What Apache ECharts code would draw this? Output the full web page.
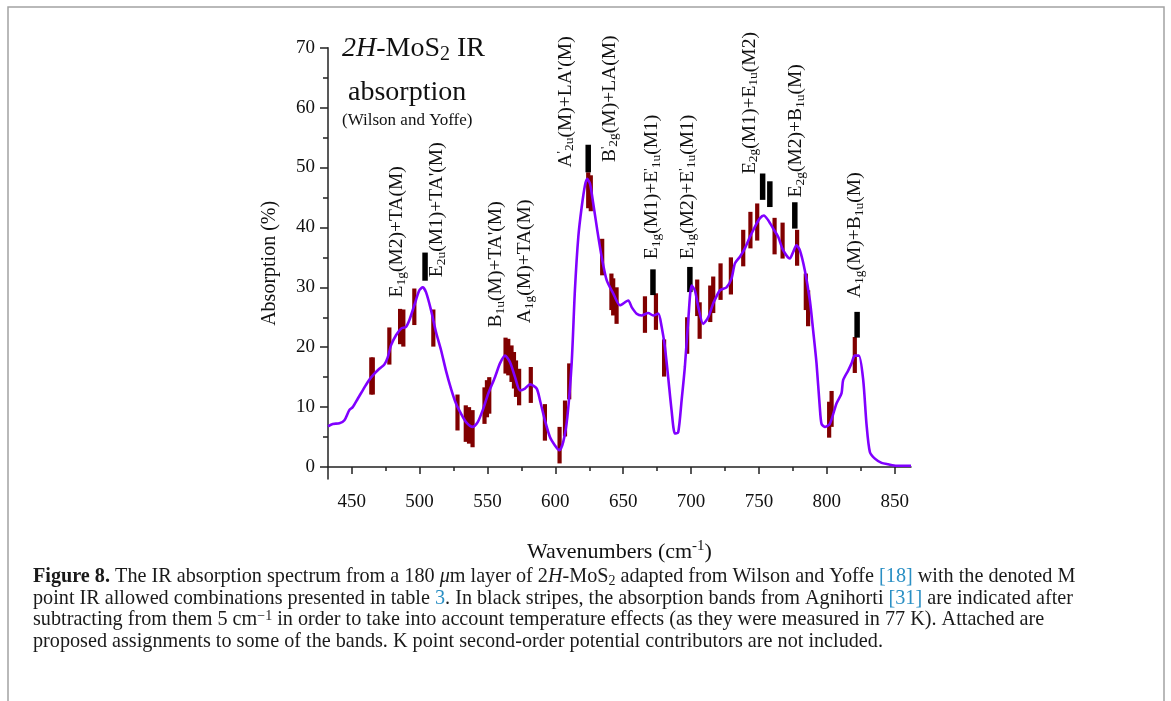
<!DOCTYPE html>
<html>
<head>
<meta charset="utf-8">
<script src="https://cdn.jsdelivr.net/npm/echarts@6/dist/echarts.min.js"></script>
<style>
  html, body { margin: 0; padding: 0; background: #fff; }
  #chart { width: 1171px; height: 701px; }
</style>
</head>
<body>
<div id="chart"></div>
<script>
const SERIF = "'Liberation Serif', 'Times New Roman', serif";

// Wilson & Yoffe trace: [wavenumber (cm-1), absorption (%)]
const spectrum = [
  [432.5, 6.8], [436, 7.2], [440.9, 7.3], [444.6, 7.8], [448.2, 9.5], [450.7, 10.0],
  [454.4, 11.4], [458.1, 12.8], [461.8, 14.2], [465.5, 15.3], [470.3, 16.4], [474, 17.1],
  [476.5, 18.3], [478.9, 20.3], [482.6, 22.0], [486.3, 23.1], [490, 23.4], [492.4, 24.5],
  [496.1, 27.0], [499.8, 29.5], [502.3, 30.0], [504.7, 29.2], [508.4, 26.2], [512.1, 22.5],
  [515.8, 19.5], [519.4, 16.1], [523.1, 13.1], [526.8, 10.6], [530.5, 8.9], [534.2, 7.5],
  [539.1, 6.7], [542.8, 7.5], [546.5, 9.5], [550.6, 12.3], [555.5, 15.0], [559.2, 17.3],
  [562.9, 18.6], [566.6, 17.5], [570.3, 15.0], [573.9, 12.8], [577.6, 13.1], [581.3, 13.8],
  [586.2, 13.1], [588.7, 11.1], [592.3, 7.8], [596, 5.0], [599.7, 3.6], [602.9, 2.8],
  [605.8, 4.2], [608.8, 8.3], [612, 17.3], [614.4, 29.5], [616.9, 38.4], [619.4, 43.4],
  [621.8, 47.0], [623.5, 48.1], [625.5, 47.3], [627.9, 44.0], [630.9, 39.5], [634.1, 35.1],
  [637.8, 31.2], [642.6, 29.0], [647.6, 27.0], [653.7, 27.8], [656.2, 26.7], [659.9, 25.6],
  [663.5, 25.3], [668.4, 25.7], [672.1, 25.3], [675.8, 25.6], [678.3, 23.4], [680.7, 20.0],
  [683.1, 15.0], [685.6, 9.5], [688.1, 5.6], [690.5, 5.8], [693, 11.1], [695.4, 16.7],
  [697.9, 24.5], [700.4, 30.3], [702.8, 29.5], [705.3, 26.7], [708.9, 23.9], [712.6, 25.0],
  [716.3, 27.3], [721.2, 29.5], [726.1, 30.0], [729.8, 31.5], [732.3, 34.0], [736, 35.1],
  [739.6, 36.5], [743.3, 38.4], [747, 40.1], [750.6, 41.5], [753.6, 42.0], [756.8, 41.2],
  [760.5, 39.8], [764.2, 38.4], [767.8, 36.2], [772.7, 34.8], [775.2, 35.9], [777.6, 37.0],
  [780.1, 36.2], [783.8, 32.8], [787.5, 27.8], [789.9, 22.8], [792.4, 17.3], [794.8, 10.0],
  [796.1, 7.2], [798.5, 6.7], [802.2, 7.2], [807.1, 10.6], [810.8, 12.3], [812, 14.5],
  [815.7, 16.1], [818.2, 17.3], [820.6, 18.6], [823.6, 18.6], [826.8, 14.5], [829.2, 7.2],
  [831.7, 2.5], [835.4, 1.4], [840.3, 0.7], [845.2, 0.45], [851.3, 0.2], [862, 0.2]
];

// M point combinations (dark red stripes): [wavenumber, low, high]
const combos = [
  [464.4, 12.1, 18.3], [465.5, 12.1, 18.3], [477.7, 17.1, 23.3], [485.6, 20.5, 26.4],
  [488.0, 20.1, 26.3], [496.1, 23.7, 29.8], [510.1, 20.1, 26.3], [527.9, 6.1, 12.1],
  [534.0, 4.2, 10.3], [536.4, 3.9, 10.0], [539.0, 3.3, 9.5], [547.8, 7.2, 13.3],
  [549.6, 8.3, 14.5], [551.3, 8.9, 15.0], [563.3, 15.6, 21.6], [565.3, 15.3, 21.4],
  [567.7, 14.2, 20.3], [569.5, 13.1, 19.2], [571.0, 11.7, 17.8], [573.3, 10.3, 16.4],
  [581.9, 10.7, 16.7], [592.3, 4.4, 10.5], [603.1, 0.6, 6.7], [607.1, 5.1, 11.1],
  [610.2, 11.3, 17.3], [624.2, 43.2, 49.2], [626.1, 42.7, 48.7], [634.5, 32.0, 38.1],
  [641.3, 26.2, 32.3], [642.6, 25.3, 31.5], [645.1, 23.9, 30.0], [666.0, 22.4, 28.5],
  [674.1, 22.9, 29.0], [680.1, 15.1, 21.3], [697.1, 18.9, 25.0], [704.5, 25.2, 31.3],
  [706.3, 21.4, 27.5], [714.1, 24.2, 30.3], [716.3, 25.7, 31.8], [721.7, 27.9, 34.0],
  [729.3, 28.8, 35.0], [738.4, 33.5, 39.6], [743.7, 36.5, 42.6], [748.7, 37.8, 44.0],
  [761.5, 35.5, 41.6], [767.4, 34.8, 40.8], [778.1, 33.6, 39.6], [784.5, 26.2, 32.3],
  [786.2, 23.5, 29.5], [801.7, 4.9, 10.9], [803.5, 6.7, 12.7], [820.6, 15.7, 21.7]
];

// Agnihotri bands (black stripes): [wavenumber, low, high]
const bands = [
  [504.0, 31.1, 35.8], [624.2, 49.2, 53.8], [671.9, 28.7, 33.0], [699.1, 29.2, 33.4],
  [752.7, 44.6, 49.0], [758.0, 43.4, 47.7], [776.4, 39.8, 44.2], [822.3, 21.6, 25.9]
];

// assignments: [wavenumber, absorption where the vertical text starts, text]
const assignments = [
  [483.4, 28.3, 'E{s|1g}(M2)+TA(M)'],
  [512.8, 31.7, "E{s|2u}(M1)+TA'(M)"],
  [556.3, 23.3, "B{s|1u}(M)+TA'(M)"],
  [577.8, 24.0, 'A{s|1g}(M)+TA(M)'],
  [607.8, 50.0, "A{p|'}{s|2u}(M)+LA'(M)"],
  [640.2, 50.9, "B{p|'}{s|2g}(M)+LA(M)"],
  [671.4, 34.7, "E{s|1g}(M1)+E{p|'}{s|1u}(M1)"],
  [697.6, 34.7, "E{s|1g}(M2)+E{p|'}{s|1u}(M1)"],
  [743.3, 48.9, 'E{s|2g}(M1)+E{s|1u}(M2)'],
  [777.5, 45.0, 'E{s|2g}(M2)+B{s|1u}(M)'],
  [821.0, 28.2, 'A{s|1g}(M)+B{s|1u}(M)']
];

const xMajor = [450, 500, 550, 600, 650, 700, 750, 800, 850];
const xMinor = [475, 525, 575, 625, 675, 725, 775, 825];
const yMajor = [0, 10, 20, 30, 40, 50, 60, 70];
const yMinor = [5, 15, 25, 35, 45, 55, 65];

const captionLines = [
  '{b|Figure 8.} The IR absorption spectrum from a 180 {i|\u03bc}m layer of 2{i|H}-MoS{s|2} adapted from Wilson and Yoffe {c|[18]} with the denoted M',
  'point IR allowed combinations presented in table {c|3}. In black stripes, the absorption bands from Agnihorti {c|[31]} are indicated after',
  'subtracting from them 5 cm{p|\u22121} in order to take into account temperature effects (as they were measured in 77 K). Attached are',
  'proposed assignments to some of the bands. K point second-order potential contributors are not included.'
];

const INK = '#111';
const AXIS = '#222';
const CAP = 20.2;

const chart = echarts.init(document.getElementById('chart'), null, { renderer: 'canvas' });

function stripe(width, color) {
  return function (params, api) {
    const top = api.coord([api.value(0), api.value(2)]);
    const bot = api.coord([api.value(0), api.value(1)]);
    return {
      type: 'rect',
      shape: { x: top[0] - width / 2, y: top[1], width: width, height: bot[1] - top[1] },
      style: { fill: color }
    };
  };
}

const labelRich = {
  s: { fontSize: 13.5, fontFamily: SERIF, verticalAlign: 'bottom', lineHeight: 8 },
  p: { fontSize: 13.5, fontFamily: SERIF, verticalAlign: 'top', lineHeight: 9 }
};

const tickAxis = (extra) => Object.assign({
  type: 'value',
  splitLine: { show: false },
  axisLine: { show: true, lineStyle: { color: AXIS, width: 1.5 } }
}, extra);

const capRich = {
  b: { fontWeight: 'bold', fontSize: CAP, fontFamily: SERIF },
  i: { fontStyle: 'italic', fontSize: CAP, fontFamily: SERIF },
  c: { fill: '#2a8fc4', fontSize: CAP, fontFamily: SERIF },
  s: { fontSize: 14, fontFamily: SERIF, verticalAlign: 'bottom', lineHeight: 12 },
  p: { fontSize: 14, fontFamily: SERIF, verticalAlign: 'top', lineHeight: 10 }
};

chart.setOption({
  animation: false,
  backgroundColor: '#fff',
  grid: { left: 328, right: 260, top: 47.7, bottom: 222 },
  xAxis: [
    tickAxis({
      min: 432.5, max: 862, position: 'bottom',
      axisTick: { show: true, length: 7, customValues: xMajor, lineStyle: { color: AXIS, width: 1.5 } },
      axisLabel: { customValues: xMajor, fontSize: 19, fontFamily: SERIF, color: INK, margin: 14 },
      name: 'Wavenumbers (cm{sup|-1})',
      nameLocation: 'middle', nameGap: 60,
      nameTextStyle: {
        fontSize: 22, fontFamily: SERIF, color: INK, lineHeight: 26,
        rich: { sup: { fontSize: 15, fontFamily: SERIF, color: INK, verticalAlign: 'top', lineHeight: 10 } }
      }
    }),
    tickAxis({
      min: 432.5, max: 862, position: 'bottom',
      axisLine: { show: false },
      axisTick: { show: true, length: 4, customValues: xMinor, lineStyle: { color: AXIS, width: 1.5 } },
      axisLabel: { show: false }
    })
  ],
  yAxis: [
    tickAxis({
      min: -2, max: 70, position: 'left',
      axisTick: { show: true, length: 8, customValues: yMajor, lineStyle: { color: AXIS, width: 1.5 } },
      axisLabel: { customValues: yMajor, fontSize: 19, fontFamily: SERIF, color: INK, margin: 13 },
      name: 'Absorption (%)', nameLocation: 'middle', nameGap: 48, nameRotate: 90,
      nameTextStyle: { fontSize: 20, fontFamily: SERIF, color: INK }
    }),
    tickAxis({
      min: -2, max: 70, position: 'left',
      axisLine: { show: false },
      axisTick: { show: true, length: 5, customValues: yMinor, lineStyle: { color: AXIS, width: 1.5 } },
      axisLabel: { show: false }
    })
  ],
  series: [
    {
      type: 'line', data: spectrum, smooth: 0.25, symbol: 'none', clip: true,
      lineStyle: { color: '#8000ff', width: 2.6 }
    },
    { type: 'custom', data: combos, renderItem: stripe(4.2, '#800000'), clip: false },
    { type: 'custom', data: bands, renderItem: stripe(5.5, '#000'), clip: false },
    {
      type: 'custom', clip: false, silent: true,
      data: assignments.map(a => [a[0], a[1]]),
      renderItem: function (params, api) {
        const p = api.coord([api.value(0), api.value(1)]);
        return {
          type: 'text', x: p[0], y: p[1], rotation: Math.PI / 2,
          style: {
            text: assignments[params.dataIndex][2],
            fontSize: 19.5, fontFamily: SERIF, lineHeight: 22, fill: INK,
            align: 'left', verticalAlign: 'middle', rich: labelRich
          }
        };
      }
    }
  ],
  graphic: [
    {
      type: 'rect', silent: true,
      shape: { x: 8, y: 7, width: 1156, height: 720 },
      style: { fill: 'none', stroke: '#a3a3a3', lineWidth: 1.5 }
    },
    {
      type: 'text', x: 342, y: 49,
      style: {
        text: '{i|2H}-MoS{s|2} IR', fontSize: 28, fontFamily: SERIF, lineHeight: 32, fill: INK,
        verticalAlign: 'middle',
        rich: {
          i: { fontStyle: 'italic', fontSize: 28, fontFamily: SERIF },
          s: { fontSize: 20, fontFamily: SERIF, verticalAlign: 'bottom', lineHeight: 14 }
        }
      }
    },
    {
      type: 'text', x: 348, y: 93,
      style: { text: 'absorption', fontSize: 28, fontFamily: SERIF, fill: INK, verticalAlign: 'middle' }
    },
    {
      type: 'text', x: 342, y: 121,
      style: { text: '(Wilson and Yoffe)', fontSize: 17, fontFamily: SERIF, fill: INK, verticalAlign: 'middle' }
    }
  ].concat(captionLines.map((t, i) => ({
    type: 'text', x: 33, y: [577, 598.5, 620, 641.5][i],
    style: {
      text: t, fontSize: CAP, fontFamily: SERIF, fill: '#1a1a1a', lineHeight: 22,
      verticalAlign: 'middle', rich: capRich
    }
  })))
});

window.addEventListener('resize', () => chart.resize());
</script>
</body>
</html>
